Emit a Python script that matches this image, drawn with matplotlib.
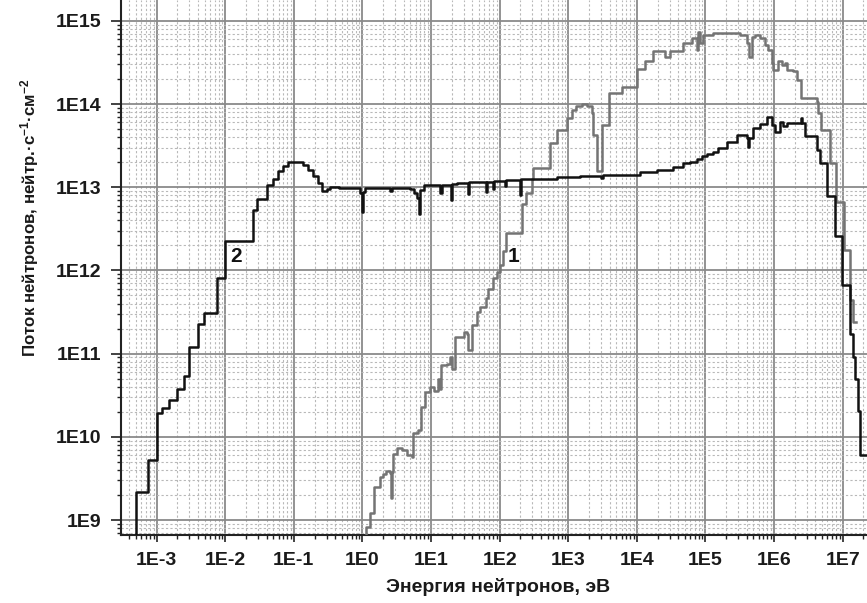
import numpy as np
import matplotlib
matplotlib.use("Agg")
import matplotlib.pyplot as plt
from matplotlib.ticker import LogLocator, FuncFormatter, NullFormatter

plt.rcParams['font.family'] = ['Liberation Sans', 'DejaVu Sans']
plt.rcParams['mathtext.fontset'] = 'custom'
plt.rcParams['mathtext.rm'] = 'Liberation Sans:bold'
plt.rcParams['mathtext.bf'] = 'Liberation Sans:bold'
plt.rcParams['mathtext.default'] = 'rm'

# Curve 2 (black): energy (eV) where each step starts, flux
energy_2 = [4.94e-4, 4.94e-4, 7.6e-4, 1.0e-3, 1.18e-3, 1.51e-3, 2.0e-3, 2.52e-3, 2.98e-3,
            4.0e-3, 4.9e-3, 7.5e-3, 9.9e-3, 0.0251, 0.0287, 0.040, 0.049, 0.059, 0.070,
            0.083, 0.137, 0.162, 0.19, 0.227, 0.254, 0.30, 0.34, 0.45, 0.7, 0.93, 0.98,
            1.02, 1.1, 2.55, 2.7, 5.0, 5.6, 6.3, 6.6, 6.9, 8.0, 13.5, 14.2, 19.5, 20.5,
            24, 34, 36, 64, 66, 80, 83, 120, 125, 195, 205, 300, 680, 1500, 3.0e3, 3.2e3,
            1.1e4, 1.95e4, 3.4e4, 4.75e4, 5.9e4, 7.45e4, 8.8e4, 1.04e5, 1.3e5, 1.54e5,
            2.04e5, 2.85e5, 3.98e5, 4.2e5, 4.3e5, 4.98e5, 6.2e5, 7.8e5, 9.2e5, 1.03e6,
            1.22e6, 1.36e6, 1.53e6, 2.5e6, 2.56e6, 2.8e6, 4.2e6, 4.7e6, 5.9e6, 7.8e6,
            9.8e6, 1.29e7, 1.4e7, 1.53e7, 1.7e7, 1.78e7, 2.3e7]
flux_2 = [3e8, 2.2e9, 5.3e9, 1.92e10, 2.24e10, 2.76e10, 3.8e10, 5.4e10, 1.21e11,
          2.25e11, 3.1e11, 8.05e11, 2.26e12, 5.3e12, 7.3e12, 1.05e13, 1.26e13, 1.55e13, 1.82e13,
          2.0e13, 1.85e13, 1.63e13, 1.35e13, 1.12e13, 9.1e12, 9.4e12, 1.0e13, 9.9e12, 9.7e12, 8.5e12, 5.0e12,
          8.8e12, 9.8e12, 9.0e12, 9.9e12, 9.5e12, 8.5e12, 7.5e12, 4.7e12, 9.2e12, 1.05e13, 8.6e12, 1.07e13, 7.1e12, 1.08e13,
          1.13e13, 8.4e12, 1.15e13, 8.8e12, 1.17e13, 9.5e12, 1.2e13, 1.02e13, 1.22e13, 8.0e12, 1.25e13, 1.27e13, 1.32e13, 1.38e13, 1.3e13, 1.42e13,
          1.54e13, 1.61e13, 1.77e13, 1.95e13, 2.03e13, 2.17e13, 2.34e13, 2.51e13, 2.68e13, 2.95e13,
          3.54e13, 4.26e13, 3.88e13, 3.08e13, 3.88e13, 5.1e13, 5.77e13, 7.06e13, 5.6e13, 4.67e13,
          6.15e13, 5.46e13, 5.9e13, 6.7e13, 5.9e13, 4.1e13, 2.8e13, 1.95e13, 7.8e12, 2.57e12,
          6.7e11, 1.7e11, 9.2e10, 5.0e10, 2.05e10, 6.0e9, 6.0e9]

# Curve 1 (grey)
energy_1 = [1.0, 1.12, 1.29, 1.45, 1.8, 2.0, 2.24, 2.5, 2.6, 2.7, 2.82, 3.16, 3.8, 4.5,
            5.2, 5.5, 6.5, 7.2, 8.1, 9.5, 11, 12.6, 13.5, 14.1, 17, 19, 20, 22.4, 30, 33,
            35, 38.9, 46, 52, 63, 68, 81, 91, 100, 112, 123, 209, 245, 295, 302, 550, 676,
            955, 1122, 1300, 1570, 1900, 2190, 2320, 2630, 3090, 3980, 6030, 1.0e4, 1.31e4,
            1.73e4, 2.57e4, 3.04e4, 4.74e4, 6.3e4, 7.45e4, 7.85e4, 8.3e4, 9.3e4, 1.3e5,
            3.2e5, 3.98e5, 4.35e5, 4.72e5, 5.27e5, 6.2e5, 7.4e5, 8.25e5, 9.2e5, 9.7e5,
            1.15e6, 1.29e6, 1.44e6, 1.53e6, 1.9e6, 2.14e6, 2.5e6, 4.17e6, 4.4e6, 4.8e6,
            6.5e6, 8.1e6, 1.04e7, 1.28e7, 1.43e7, 1.58e7]
flux_1 = [5e8, 8.3e8, 1.2e9, 2.5e9, 3.3e9, 3.6e9, 3.9e9, 3.7e9, 1.82e9, 3.8e9, 6.3e9, 7.3e9, 7.0e9, 6.0e9,
          5.7e9, 1.1e10, 1.2e10, 2.3e10, 3.5e10, 4.0e10, 3.6e10, 5.0e10, 3.8e10, 7.3e10, 7.5e10, 9.2e10, 6.5e10, 1.6e11, 1.8e11, 1.7e11,
          1.1e11, 2.2e11, 3.2e11, 3.6e11, 4.6e11, 5.9e11, 8.1e11, 9.7e11, 1.17e12, 1.7e12, 2.8e12, 6.2e12, 8.5e12, 1.24e13, 1.7e13, 3.4e13, 4.9e13,
          6.8e13, 8.5e13, 9.5e13, 1.0e14, 9.5e13, 7.8e13, 4.3e13, 1.55e13, 5.6e13, 1.35e14, 1.62e14, 2.63e14, 3.33e14,
          4.28e14, 3.72e14, 4.28e14, 5.48e14, 6.2e14, 4.48e14, 7.43e14, 5.4e14, 6.78e14, 7.1e14,
          6.8e14, 5.4e14, 3.72e14, 6.47e14, 6.78e14, 6.2e14, 5.14e14, 4.48e14, 3.1e14, 2.58e14,
          3.25e14, 2.96e14, 3.1e14, 2.58e14, 2.46e14, 1.95e14, 1.17e14, 1.07e14, 7.77e13, 4.9e13,
          1.95e13, 6.7e12, 1.76e12, 4.4e11, 2.42e11, 2.42e11]

x_ticks = [1e-3, 1e-2, 1e-1, 1e0, 1e1, 1e2, 1e3, 1e4, 1e5, 1e6, 1e7]
y_ticks = [1e9, 1e10, 1e11, 1e12, 1e13, 1e14, 1e15]

W, H = 867, 603
fig = plt.figure(figsize=(W / 100, H / 100), dpi=100)
ax = fig.add_axes([121 / W, (H - 535) / H, (W - 121) / W, 535 / H])
ax.set_xscale('log')
ax.set_yscale('log')
ax.set_xlim(10 ** -3.52, 10 ** 7.355)
ax.set_ylim(10 ** 8.82, 10 ** 15.25)

ax.grid(which='major', color='#8a8a8a', linewidth=1.3, linestyle='-')
ax.grid(which='minor', color='#b8b8b8', linewidth=0.8, linestyle=(0, (2, 2)))
ax.set_axisbelow(True)

ax.plot(energy_1, flux_1, drawstyle='steps-post', color='#747474', linewidth=1.8, zorder=3)
ax.plot(energy_2, flux_2, drawstyle='steps-post', color='#111111', linewidth=1.8, zorder=4)

ax.xaxis.set_minor_locator(LogLocator(base=10, subs=np.arange(2, 10), numticks=30))
ax.yaxis.set_minor_locator(LogLocator(base=10, subs=np.arange(2, 10), numticks=30))
ax.set_xticks(x_ticks)
ax.set_yticks(y_ticks)
fmt = FuncFormatter(lambda v, p: "1E%d" % int(round(np.log10(v))))
ax.xaxis.set_major_formatter(fmt)
ax.yaxis.set_major_formatter(fmt)
ax.xaxis.set_minor_formatter(NullFormatter())
ax.yaxis.set_minor_formatter(NullFormatter())
ax.tick_params(axis='x', which='major', direction='out', length=5, width=1.2, color='#222222',
               labelsize=14, pad=7)
ax.tick_params(axis='y', which='major', direction='out', length=7, width=1.2, color='#222222',
               labelsize=14, pad=7)
ax.tick_params(which='minor', direction='out', length=3, width=1.0, color='#222222')
for lab in ax.get_xticklabels() + ax.get_yticklabels():
    lab.set_fontweight('bold')
    lab.set_color('#1a1a1a')

for s in ['top', 'right']:
    ax.spines[s].set_visible(False)
for s in ['left', 'bottom']:
    ax.spines[s].set_linewidth(1.5)
    ax.spines[s].set_color('#222222')

fig.text(498 / W, 1 - 587 / H, 'Энергия нейтронов, эВ', ha='center', va='center',
         fontsize=14, fontweight='bold', color='#1a1a1a')
fig.text(30 / W, 1 - 218 / H, 'Поток нейтронов, нейтр.·с$^{-1}$·см$^{-2}$',
         ha='center', va='center', rotation=90, fontsize=12.2, fontweight='bold', color='#1a1a1a')

ax.text(0.0143, 1.48e12, '2', fontsize=15, fontweight='bold', ha='center', va='center', color='#111111')
ax.text(161, 1.45e12, '1', fontsize=15, fontweight='bold', ha='center', va='center', color='#111111')

fig.savefig('out.png', dpi=100, facecolor='white')
